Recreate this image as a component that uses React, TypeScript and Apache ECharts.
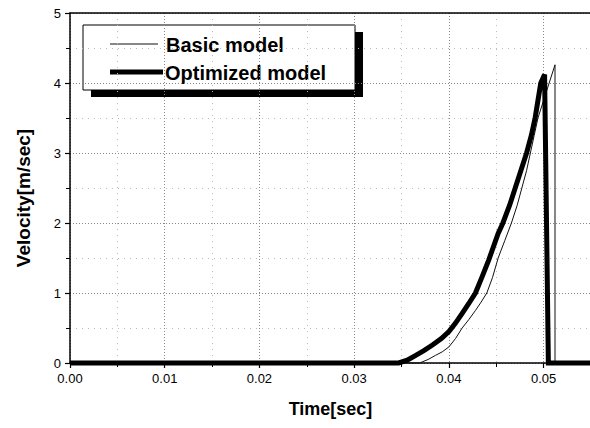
import React, { useEffect, useRef } from "react";
import * as echarts from "echarts";

const basicTime = [0, 0.0369, 0.0378, 0.0386, 0.0393, 0.04, 0.0407, 0.0414, 0.0421, 0.0428, 0.0434, 0.044, 0.0446, 0.0452, 0.0459, 0.0466, 0.0472, 0.0477, 0.0482, 0.0486, 0.049, 0.0494, 0.0503, 0.0512, 0.0512, 0.055];
const basicVel = [0, 0, 0.05, 0.11, 0.16, 0.23, 0.35, 0.5, 0.62, 0.75, 0.87, 1.0, 1.22, 1.5, 1.75, 2.0, 2.25, 2.5, 2.75, 3.0, 3.25, 3.5, 3.88, 4.26, 0, 0];
const optTime = [0, 0.0347, 0.0356, 0.0365, 0.0374, 0.0383, 0.0392, 0.04, 0.0407, 0.0414, 0.0421, 0.0428, 0.0435, 0.0442, 0.0452, 0.0457, 0.0464, 0.047, 0.0476, 0.0482, 0.0487, 0.0491, 0.0494, 0.0497, 0.0501, 0.0505, 0.055];
const optVel = [0, 0, 0.04, 0.11, 0.18, 0.26, 0.35, 0.45, 0.57, 0.71, 0.85, 1.0, 1.23, 1.47, 1.85, 2.0, 2.25, 2.5, 2.75, 3.0, 3.25, 3.5, 3.75, 4.0, 4.12, 0, 0];
const seriesNames = ["Basic model", "Optimized model"];
const xTitle = "Time[sec]";
const yTitle = "Velocity[m/sec]";

const FONT = "'Liberation Sans', Arial, sans-serif";

export default function App() {
  const ref = useRef<HTMLDivElement>(null);
  useEffect(() => {
    if (!ref.current) return;
    const chart = echarts.init(ref.current, null, { renderer: "svg" });
    const basic = basicTime.map((t, i) => [t, basicVel[i]]);
    const opt = optTime.map((t, i) => [t, optVel[i]]);
    chart.setOption({
      animation: false,
      backgroundColor: "#fff",
      grid: { left: 70, top: 13, width: 521, bottom: 65, containLabel: false, outerBoundsMode: "none" },
      xAxis: [
        {
          type: "value",
          min: 0,
          max: 0.055,
          interval: 0.01,
          name: xTitle,
          nameLocation: "middle",
          nameGap: 37,
          nameTextStyle: { fontFamily: FONT, fontWeight: "bold", fontSize: 18, color: "#000" },
          axisLine: { show: true, onZero: false, lineStyle: { color: "#000", width: 1.5 } },
          axisTick: { show: true, length: 5, lineStyle: { color: "#000", width: 1.2 } },
          minorTick: { show: true, splitNumber: 2, length: 4, lineStyle: { color: "#000", width: 1 } },
          axisLabel: {
            fontFamily: FONT,
            fontSize: 13,
            color: "#000",
            margin: 9,
            showMaxLabel: false,
            formatter: (v: number) => v.toFixed(2),
          },
          splitLine: { show: true, lineStyle: { color: "#888", type: [1, 2], width: 1 } },
          minorSplitLine: { show: true, lineStyle: { color: "#bbb", type: [1, 5], width: 1 } },
        },
        {
          type: "value",
          position: "top",
          min: 0,
          max: 0.055,
          axisLine: { show: true, onZero: false, lineStyle: { color: "#000", width: 1.5 } },
          axisTick: { show: false },
          axisLabel: { show: false },
          splitLine: { show: false },
        },
      ],
      yAxis: {
        type: "value",
        min: 0,
        max: 5,
        interval: 1,
        axisLine: { show: true, onZero: false, lineStyle: { color: "#000", width: 1.5 } },
        axisTick: { show: true, length: 5, lineStyle: { color: "#000", width: 1.2 } },
        minorTick: { show: true, splitNumber: 2, length: 4, lineStyle: { color: "#000", width: 1 } },
        axisLabel: { fontFamily: FONT, fontSize: 13, color: "#000", margin: 9 },
        splitLine: { show: true, lineStyle: { color: "#888", type: [1, 2], width: 1 } },
        minorSplitLine: { show: true, lineStyle: { color: "#bbb", type: [1, 5], width: 1 } },
      },
      series: [
        {
          name: seriesNames[0],
          type: "line",
          data: basic,
          showSymbol: false,
          clip: false,
          lineStyle: { color: "#111", width: 1 },
          z: 3,
        },
        {
          name: seriesNames[1],
          type: "line",
          data: opt,
          showSymbol: false,
          clip: false,
          lineStyle: { color: "#000", width: 5, join: "miter" },
          z: 4,
        },
      ],
      graphic: [
        {
          type: "text",
          x: 23,
          y: 198,
          rotation: Math.PI / 2,
          style: { text: yTitle, fontFamily: FONT, fontWeight: "bold", fontSize: 19, fill: "#000", align: "center", verticalAlign: "middle" },
        },
        {
          type: "group",
          z: 100,
          children: [
            { type: "rect", shape: { x: 91, y: 32, width: 272, height: 65 }, style: { fill: "#000" } },
            { type: "rect", shape: { x: 83, y: 25, width: 272, height: 65 }, style: { fill: "#fff", stroke: "#000", lineWidth: 1 } },
            { type: "line", shape: { x1: 110, y1: 44, x2: 158, y2: 44 }, style: { stroke: "#111", lineWidth: 1 } },
            { type: "line", shape: { x1: 110, y1: 72, x2: 163, y2: 72 }, style: { stroke: "#000", lineWidth: 5 } },
            {
              type: "text",
              x: 166,
              y: 45,
              style: { text: seriesNames[0], fontFamily: FONT, fontWeight: "bold", fontSize: 20, fill: "#000", verticalAlign: "middle", align: "left" },
            },
            {
              type: "text",
              x: 165,
              y: 73,
              style: { text: seriesNames[1], fontFamily: FONT, fontWeight: "bold", fontSize: 20, fill: "#000", verticalAlign: "middle", align: "left" },
            },
          ],
        },
      ],
    });
    return () => chart.dispose();
  }, []);
  return (
    <div
      ref={ref}
      style={{ position: "fixed", left: 0, top: 0, width: 590, height: 428, overflow: "hidden" }}
    />
  );
}
